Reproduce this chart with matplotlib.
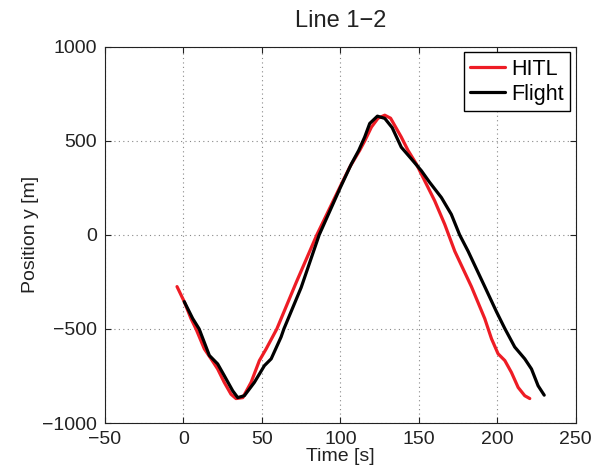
import matplotlib
matplotlib.use("Agg")
import matplotlib.pyplot as plt

# HITL (red) series
hitl_t = [-4.1, 0.5, 4.8, 8, 13.3, 17.6, 21.8, 26, 30.3, 33.5, 37.8, 43.1,
          48.4, 52.7, 59.5, 72, 85, 99.6, 105.9, 112.3, 115.5, 119.8, 124,
          128.3, 132, 138.8, 143.1, 148.4, 153.7, 160.1, 166.5, 172.9, 183.5,
          192, 196.3, 200.5, 204.8, 209, 213.3, 217.5, 220.7]
hitl_y = [-275, -355, -445, -500, -606, -659, -713, -784, -847, -870, -865,
          -784, -668, -606, -500, -250, 0, 252, 359, 449, 499, 573, 620, 636,
          620, 520, 449, 377, 288, 181, 56, -87, -275, -445, -552, -632,
          -668, -731, -811, -855, -870]

# Flight (black) series
flight_t = [0.5, 5.9, 10, 16.5, 21.8, 26, 31.4, 34.6, 38.8, 45.2, 51.6, 55.9,
            62.2, 64, 75, 86.5, 100, 107, 111.7, 115.5, 118.7, 123.6, 128.3,
            133, 138.8, 145.2, 151.6, 156.9, 164.4, 170.7, 176, 181.4, 192,
            199.5, 204.8, 211.1, 217.5, 221.8, 226, 229.9]
flight_y = [-355, -445, -500, -641, -686, -748, -829, -865, -855, -784, -695,
            -659, -543, -500, -280, 0, 252, 377, 449, 520, 592, 631, 619, 570,
            466, 404, 341, 279, 198, 109, 0, -87, -275, -409, -498, -596,
            -659, -713, -802, -852]

x_ticks = [-50, 0, 50, 100, 150, 200, 250]
y_ticks = [-1000, -500, 0, 500, 1000]

plt.rcParams['font.family'] = ['Liberation Sans', 'DejaVu Sans']
fig = plt.figure(figsize=(6.01, 4.71), dpi=100)
ax = fig.add_axes([0.1747, 0.1019, 0.958 - 0.1747, 0.9008 - 0.1019])

ax.plot(hitl_t, hitl_y, color='#ee1c25', lw=2.3, label='HITL',
        solid_joinstyle='round', solid_capstyle='round')
ax.plot(flight_t, flight_y, color='black', lw=2.3, label='Flight',
        solid_joinstyle='round', solid_capstyle='round')

ax.set_xlim(-50, 250)
ax.set_ylim(-1000, 1000)
ax.set_xticks(x_ticks)
ax.set_yticks(y_ticks)
ax.tick_params(direction='in', length=4, width=0.8, labelsize=14,
               top=True, right=True, pad=6, colors='#222222')
ax.grid(True, color='#888888', linestyle=(0, (1, 3)), linewidth=0.8)
for s in ax.spines.values():
    s.set_linewidth(0.8)
    s.set_color('#222222')

ax.set_xlabel('Time [s]', fontsize=14, labelpad=0, color='#222222')
ax.set_ylabel('Position y [m]', fontsize=14, labelpad=2, color='#222222')
ax.set_title('Line 1−2', fontsize=17, pad=14, color='#222222')

leg = ax.legend(loc='upper right', fontsize=15.5, fancybox=False,
                framealpha=1, edgecolor='black', borderaxespad=0.25,
                handlelength=1.6, handletextpad=0.3, borderpad=0.3,
                labelspacing=0.2)
leg.get_frame().set_linewidth(1.0)

fig.savefig('out.png', dpi=100)
